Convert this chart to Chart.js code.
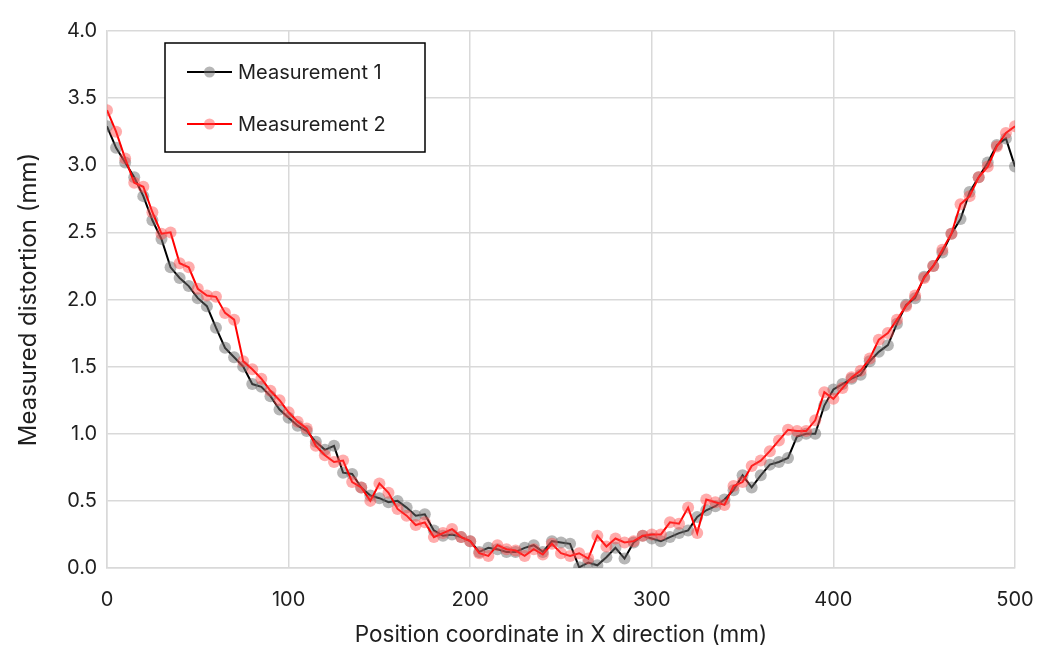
<!DOCTYPE html>
<html>
<head>
<meta charset="utf-8">
<script src="https://cdn.jsdelivr.net/npm/chart.js@4"></script>
<style>
  html, body { margin: 0; padding: 0; background: #fff; }
  #wrap { width: 1045px; height: 660px; position: relative; }
</style>
</head>
<body>
<div id="wrap"><canvas id="myChart"></canvas></div>
<script>
// x positions every 5 mm from 0 to 500
const positions = [];
for (let x = 0; x <= 500; x += 5) positions.push(x);

const measurement1 = [
  3.29, 3.13, 3.02, 2.91, 2.77, 2.59, 2.45, 2.24, 2.16, 2.10,
  2.01, 1.95, 1.79, 1.64, 1.57, 1.50, 1.37, 1.35, 1.28, 1.18,
  1.12, 1.06, 1.02, 0.94, 0.88, 0.91, 0.71, 0.70, 0.60, 0.54,
  0.52, 0.49, 0.50, 0.45, 0.39, 0.40, 0.28, 0.24, 0.25, 0.23,
  0.20, 0.12, 0.15, 0.14, 0.12, 0.12, 0.15, 0.17, 0.12, 0.20,
  0.19, 0.18, 0.005, 0.04, 0.02, 0.08, 0.15, 0.07, 0.19, 0.24,
  0.22, 0.20, 0.23, 0.26, 0.28, 0.38, 0.43, 0.46, 0.51, 0.58,
  0.69, 0.60, 0.69, 0.77, 0.79, 0.82, 0.98, 1.00, 1.00, 1.21,
  1.33, 1.37, 1.41, 1.44, 1.54, 1.61, 1.66, 1.82, 1.96, 2.01,
  2.17, 2.25, 2.35, 2.49, 2.60, 2.80, 2.91, 3.02, 3.15, 3.20,
  2.99
];

const measurement2 = [
  3.41, 3.25, 3.05, 2.87, 2.84, 2.65, 2.49, 2.50, 2.27, 2.24,
  2.08, 2.03, 2.02, 1.90, 1.85, 1.54, 1.48, 1.41, 1.32, 1.25,
  1.16, 1.09, 1.04, 0.91, 0.84, 0.79, 0.80, 0.64, 0.60, 0.50,
  0.63, 0.56, 0.44, 0.39, 0.32, 0.34, 0.23, 0.26, 0.29, 0.23,
  0.20, 0.11, 0.09, 0.17, 0.14, 0.13, 0.09, 0.14, 0.10, 0.18,
  0.11, 0.09, 0.11, 0.07, 0.24, 0.16, 0.22, 0.19, 0.20, 0.24,
  0.25, 0.25, 0.34, 0.33, 0.45, 0.26, 0.51, 0.49, 0.47, 0.61,
  0.64, 0.76, 0.80, 0.87, 0.95, 1.03, 1.02, 1.02, 1.10, 1.31,
  1.26, 1.34, 1.42, 1.47, 1.56, 1.70, 1.75, 1.85, 1.95, 2.03,
  2.16, 2.25, 2.37, 2.49, 2.71, 2.77, 2.91, 2.99, 3.14, 3.24,
  3.29
];

const seriesNames = ['Measurement 1', 'Measurement 2'];
const xTitle = 'Position coordinate in X direction (mm)';
const yTitle = 'Measured distortion (mm)';

const FONT = "Inter, 'Open Sans', sans-serif";
const GRID = '#d9d9d9';
const TEXT = '#1f1f1f';

function toPoints(values) {
  return values.map((v, i) => ({ x: positions[i], y: v }));
}

// legend box drawn inside the plot, top-left
const boxLegend = {
  id: 'boxLegend',
  afterDraw(chart) {
    const ctx = chart.ctx;
    const left = 165, top = 43, w = 260, h = 109;
    ctx.save();
    ctx.fillStyle = '#fff';
    ctx.fillRect(left, top, w, h);
    ctx.strokeStyle = '#000';
    ctx.lineWidth = 1.5;
    ctx.strokeRect(left, top, w, h);

    const rows = [top + 29, top + 81];
    chart.data.datasets.forEach((ds, i) => {
      const y = rows[i];
      ctx.strokeStyle = ds.borderColor;
      ctx.lineWidth = ds.borderWidth;
      ctx.beginPath();
      ctx.moveTo(187, y);
      ctx.lineTo(232, y);
      ctx.stroke();
      ctx.fillStyle = ds.pointBackgroundColor;
      ctx.beginPath();
      ctx.arc(209.5, y, 5.5, 0, Math.PI * 2);
      ctx.fill();
      ctx.fillStyle = TEXT;
      ctx.font = '20px ' + FONT;
      ctx.textBaseline = 'middle';
      ctx.textAlign = 'left';
      ctx.fillText(ds.label, 238, y + 1);
    });
    ctx.restore();
  }
};

const ctx = document.getElementById('myChart').getContext('2d');
new Chart(ctx, {
  type: 'line',
  data: {
    datasets: [
      {
        label: seriesNames[0],
        data: toPoints(measurement1),
        borderColor: '#000000',
        borderWidth: 2,
        pointRadius: 6,
        pointBorderWidth: 0,
        pointBackgroundColor: 'rgba(110,110,110,0.5)',
        pointBorderColor: 'rgba(0,0,0,0)',
        tension: 0,
        order: 1
      },
      {
        label: seriesNames[1],
        data: toPoints(measurement2),
        borderColor: '#ff0000',
        borderWidth: 2,
        pointRadius: 6,
        pointBorderWidth: 0,
        pointBackgroundColor: 'rgba(255,70,70,0.45)',
        pointBorderColor: 'rgba(0,0,0,0)',
        tension: 0,
        order: 0
      }
    ]
  },
  options: {
    responsive: true,
    maintainAspectRatio: false,
    animation: false,
    layout: { padding: { left: 0, top: 31, right: 30, bottom: 0 } },
    plugins: {
      legend: { display: false },
      tooltip: { enabled: false }
    },
    scales: {
      x: {
        type: 'linear',
        min: 0,
        max: 500,
        afterFit(scale) {
          scale.height = 92;
          scale.paddingLeft = 0;
          scale.paddingRight = 0;
        },
        grid: { color: GRID, lineWidth: 1.5, drawTicks: false },
        border: { color: GRID, width: 1.5 },
        ticks: {
          stepSize: 100,
          padding: 20,
          color: TEXT,
          font: { family: FONT, size: 20 },
          maxRotation: 0
        },
        title: {
          display: true,
          text: xTitle,
          color: TEXT,
          font: { family: FONT, size: 22.5 },
          padding: { top: 0, bottom: 11 }
        }
      },
      y: {
        min: 0,
        max: 4,
        afterFit(scale) { scale.width = 107; },
        grid: { color: GRID, lineWidth: 1.5, drawTicks: false },
        border: { color: GRID, width: 1.5 },
        ticks: {
          stepSize: 0.5,
          padding: 10,
          color: TEXT,
          font: { family: FONT, size: 20 },
          callback: v => v.toFixed(1)
        },
        title: {
          display: true,
          text: yTitle,
          color: TEXT,
          font: { family: FONT, size: 24 },
          padding: { top: 14, bottom: 0 }
        }
      }
    }
  },
  plugins: [boxLegend]
});
</script>
</body>
</html>
